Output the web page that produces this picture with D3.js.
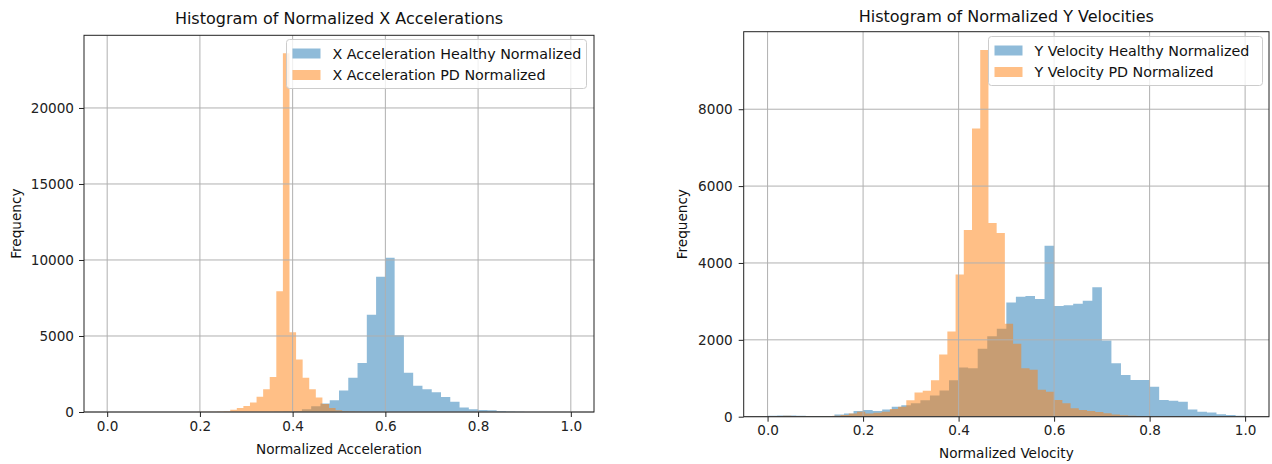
<!DOCTYPE html>
<html>
<head>
<meta charset="utf-8">
<script src="https://cdnjs.cloudflare.com/ajax/libs/d3/7.8.5/d3.min.js"></script>
<style>
  body { margin: 0; background: #fff; }
  svg { display: block; font-family: "DejaVu Sans", sans-serif; }
  .tick text { fill: #222; }
</style>
</head>
<body>
<svg id="chart" width="1272" height="464"></svg>
<script>
// ---------------- data ----------------
// bin counts, 50 bins per series; healthy series are binned on [0, 1]
var accelHealthyStart = 0, accelHealthyWidth = 0.02;
var accelHealthyCounts = [
    0, 0, 0, 0, 0, 0, 0, 0, 0, 0,
    0, 0, 0, 0, 0, 2, 3, 5, 10, 25,
    60, 175, 380, 560, 780, 1420, 2260, 3230, 6400, 8900,
    10150, 5050, 2580, 1720, 1500, 1300, 980, 680, 290, 180,
    130, 110, 65, 25, 10, 5, 2, 1, 0, 0
];
var accelPdStart = 0.0098, accelPdWidth = 0.0142;
var accelPdCounts = [
    0, 0, 0, 0, 1, 1, 1, 2, 2, 3,
    4, 5, 8, 10, 15, 20, 30, 55, 150, 260,
    400, 620, 1000, 1500, 2300, 7950, 23600, 5250, 3450, 2250,
    1500, 950, 520, 260, 120, 55, 25, 12, 6, 4,
    2, 1, 1, 0, 0, 0, 0, 0, 0, 0
];

var velHealthyStart = 0, velHealthyWidth = 0.02;
var velHealthyCounts = [
    25, 30, 30, 25, 15, 15, 20, 60, 86, 147,
    173, 150, 190, 260, 300, 350, 430, 550, 680, 950,
    1280, 1260, 1770, 2090, 2290, 2970, 3120, 3140, 3060, 4450,
    2880, 2900, 2940, 3020, 3370, 1985, 1390, 1085, 955, 955,
    780, 435, 415, 390, 190, 130, 110, 65, 43, 26
];
var velPdStart = 0.0153, velPdWidth = 0.0172;
var velPdCounts = [
    20, 25, 20, 10, 5, 5, 10, 25, 45, 85,
    130, 85, 105, 130, 200, 260, 430, 630, 675, 950,
    1620, 2220, 3700, 4860, 7500, 9540, 5040, 4780, 2420, 1900,
    1260, 1220, 700, 650, 435, 350, 220, 175, 150, 120,
    90, 60, 40, 25, 15, 10, 5, 5, 3, 2
];

var xTicks = [0, 0.2, 0.4, 0.6, 0.8, 1.0];
var accelYTicks = [0, 5000, 10000, 15000, 20000];
var velYTicks = [0, 2000, 4000, 6000, 8000];

var accelLegend = ["X Acceleration Healthy Normalized", "X Acceleration PD Normalized"];
var velLegend = ["Y Velocity Healthy Normalized", "Y Velocity PD Normalized"];

var seriesColors = ["#1f77b4", "#ff7f0e"];

var svg = d3.select("#chart");

// turn counts into {x0, x1, n} bins
function toBins(start, width, counts) {
    return counts.map(function (n, i) {
        return { x0: start + i * width, x1: start + (i + 1) * width, n: n };
    });
}

function drawPanel(opts) {
    var g = svg.append("g");

    var x = d3.scaleLinear().domain([-0.05, 1.05]).range([opts.left, opts.right]);
    var yMax = d3.max(opts.series, function (s) { return d3.max(s.bins, function (b) { return b.n; }); }) * 1.05;
    var y = d3.scaleLinear().domain([0, yMax]).range([opts.bottom, opts.top]);

    // histogram bars, one step shape per series
    var area = d3.area()
        .curve(d3.curveStepAfter)
        .x(function (d) { return x(d[0]); })
        .y0(y(0))
        .y1(function (d) { return y(d[1]); });

    opts.series.forEach(function (s, i) {
        var pts = s.bins.map(function (b) { return [b.x0, b.n]; });
        var last = s.bins[s.bins.length - 1];
        pts.push([last.x1, last.n]);
        g.append("path")
            .datum(pts)
            .attr("d", area)
            .attr("fill", seriesColors[i])
            .attr("fill-opacity", 0.5);
    });

    // grid
    g.append("g").selectAll("line.vgrid").data(opts.xTicks).enter().append("line")
        .attr("x1", function (d) { return x(d); }).attr("x2", function (d) { return x(d); })
        .attr("y1", opts.top).attr("y2", opts.bottom)
        .attr("stroke", "#b0b0b0").attr("stroke-width", 1);
    g.append("g").selectAll("line.hgrid").data(opts.yTicks).enter().append("line")
        .attr("x1", opts.left).attr("x2", opts.right)
        .attr("y1", function (d) { return y(d); }).attr("y2", function (d) { return y(d); })
        .attr("stroke", "#b0b0b0").attr("stroke-width", 1);

    // axes
    var xAxis = d3.axisBottom(x).tickValues(opts.xTicks).tickFormat(d3.format(".1f"))
        .tickSize(5).tickPadding(4);
    var yAxis = d3.axisLeft(y).tickValues(opts.yTicks).tickFormat(d3.format("d"))
        .tickSize(5).tickPadding(opts.yPad);

    var xa = g.append("g").attr("transform", "translate(0," + opts.bottom + ")").call(xAxis);
    var ya = g.append("g").attr("transform", "translate(" + opts.left + ",0)").call(yAxis);
    [xa, ya].forEach(function (a) {
        a.select(".domain").remove();
        a.selectAll(".tick line").attr("stroke", "#222");
        a.selectAll(".tick text").attr("font-size", 13.6).attr("font-family", "DejaVu Sans");
    });

    // frame
    g.append("rect")
        .attr("x", opts.left).attr("y", opts.top)
        .attr("width", opts.right - opts.left).attr("height", opts.bottom - opts.top)
        .attr("fill", "none").attr("stroke", "#222").attr("stroke-width", 1);

    // title and labels
    var cx = (opts.left + opts.right) / 2;
    g.append("text").attr("x", cx).attr("y", opts.titleY)
        .attr("text-anchor", "middle").attr("font-size", 16).attr("fill", "#111")
        .text(opts.title);
    g.append("text").attr("x", cx).attr("y", opts.xLabelY)
        .attr("text-anchor", "middle").attr("font-size", 13.6).attr("fill", "#111")
        .text(opts.xLabel);
    g.append("text")
        .attr("transform", "translate(" + opts.yLabelX + "," + (opts.top + opts.bottom) / 2 + ") rotate(-90)")
        .attr("text-anchor", "middle").attr("font-size", 13.6).attr("fill", "#111")
        .text("Frequency");

    // legend
    var lg = g.append("g");
    lg.append("rect")
        .attr("x", opts.legend.x).attr("y", opts.legend.y)
        .attr("width", opts.legend.w).attr("height", 49)
        .attr("rx", 3)
        .attr("fill", "#fff").attr("fill-opacity", 0.8)
        .attr("stroke", "#ccc").attr("stroke-width", 1);
    opts.legendLabels.forEach(function (t, i) {
        var ry = opts.legend.y + 9 + i * 21.5;
        lg.append("rect")
            .attr("x", opts.legend.x + 6).attr("y", ry)
            .attr("width", 28).attr("height", 10)
            .attr("fill", seriesColors[i]).attr("fill-opacity", 0.5);
        lg.append("text")
            .attr("x", opts.legend.x + 46).attr("y", ry + 5).attr("dy", "0.35em")
            .attr("font-size", 14.3).attr("fill", "#111")
            .text(t);
    });
}

drawPanel({
    left: 84, right: 594, top: 35.3, bottom: 412,
    series: [
        { bins: toBins(accelHealthyStart, accelHealthyWidth, accelHealthyCounts) },
        { bins: toBins(accelPdStart, accelPdWidth, accelPdCounts) }
    ],
    xTicks: xTicks, yTicks: accelYTicks, yPad: 5,
    title: "Histogram of Normalized X Accelerations", titleY: 24,
    xLabel: "Normalized Acceleration", xLabelY: 454,
    yLabelX: 21,
    legend: { x: 286.5, y: 39.5, w: 300 },
    legendLabels: accelLegend
});

drawPanel({
    left: 743.7, right: 1269, top: 31.7, bottom: 416.7,
    series: [
        { bins: toBins(velHealthyStart, velHealthyWidth, velHealthyCounts) },
        { bins: toBins(velPdStart, velPdWidth, velPdCounts) }
    ],
    xTicks: xTicks, yTicks: velYTicks, yPad: 6,
    title: "Histogram of Normalized Y Velocities", titleY: 22,
    xLabel: "Normalized Velocity", xLabelY: 458,
    yLabelX: 687,
    legend: { x: 988.5, y: 36.5, w: 274 },
    legendLabels: velLegend
});
</script>
</body>
</html>
